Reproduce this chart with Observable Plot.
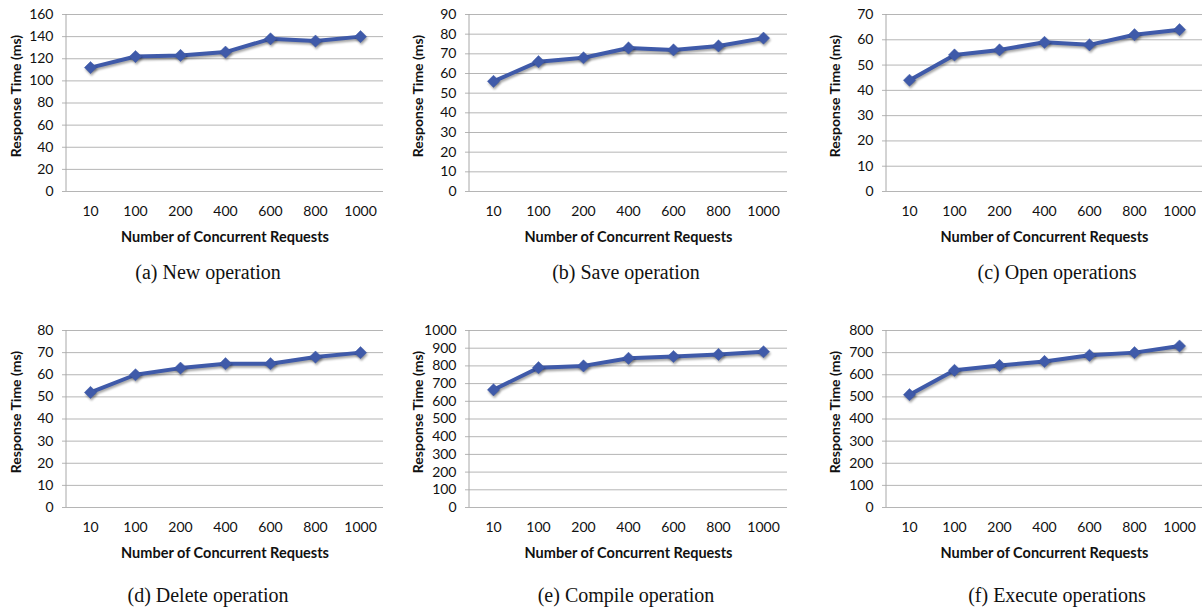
<!DOCTYPE html>
<html><head><meta charset="utf-8">
<script src="https://cdn.jsdelivr.net/npm/d3@7"></script>
<script src="https://cdn.jsdelivr.net/npm/@observablehq/plot@0.6"></script>
<style>
body{margin:0;background:#fff;}
#fig{position:relative;width:1203px;height:607px;overflow:hidden;background:#fff;}
.panel{position:absolute;}
.cap{position:absolute;font-family:"Liberation Serif","Times New Roman",serif;font-size:20px;color:#111;transform:translate(-50%,-50%);white-space:nowrap;}
.panel svg g[aria-label="line"], .panel svg g[aria-label="dot"]{filter:drop-shadow(1px 2px 1.2px rgba(0,0,0,0.35));}
</style></head>
<body><div id="fig"></div>
<script>
// ---- data ----
const requests = ["10","100","200","400","600","800","1000"];
const newOp     = [112,122,123,126,138,136,140];
const saveOp    = [56,66,68,73,72,74,78];
const openOp    = [44,54,56,59,58,62,64];
const deleteOp  = [52,60,63,65,65,68,70];
const compileOp = [665,790,800,843,853,865,880];
const executeOp = [510,620,642,660,688,700,730];
const captions = ["(a) New operation","(b) Save operation","(c) Open operations","(d) Delete operation","(e) Compile operation","(f) Execute operations"];
const yMax  = [160,90,70,80,1000,800];
const yStep = [20,10,10,10,100,100];
const xTitle = "Number of Concurrent Requests";
const yTitle = "Response Time (ms)";
const series = [newOp, saveOp, openOp, deleteOp, compileOp, executeOp];

// ---- layout ----
const cols = [
  {left:0,   width:400, ml:66, mr:17, yt:16, cx:208},
  {left:400, width:400, ml:69, mr:13, yt:18, cx:226},
  {left:800, width:403, ml:86, mr:1,  yt:35, cx:257}
];
const rows = [{top:0, capY:272}, {top:316, capY:595}];
const blue = "#3f5aa9";
const fig = document.getElementById("fig");

series.forEach((vals, i) => {
  const c = cols[i % 3], r = rows[Math.floor(i / 3)];
  const data = requests.map((k, j) => ({r: k, v: vals[j]}));
  const ticks = d3.range(0, yMax[i] + yStep[i] / 2, yStep[i]);
  const axisLine = (index, scales, values, dim) => {
    const g = d3.create("svg:line")
      .attr("x1", dim.marginLeft).attr("x2", dim.marginLeft)
      .attr("y1", dim.marginTop).attr("y2", dim.height - dim.marginBottom)
      .attr("stroke", "#a8a8a8");
    return g.node();
  };
  const chart = Plot.plot({
    width: c.width, height: 250,
    marginTop: 14, marginBottom: 59, marginLeft: c.ml, marginRight: c.mr,
    style: {fontFamily: "Lato, 'Open Sans', sans-serif", fontSize: "14px", color: "#111", background: "transparent", overflow: "visible"},
    x: {type: "point", domain: requests, padding: 0.5, label: null},
    y: {domain: [0, yMax[i]], label: null},
    marks: [
      Plot.gridY(ticks, {stroke: "#b5b5b5", strokeOpacity: 1}),
      Plot.axisY(ticks, {tickSize: 4, tickPadding: 9, stroke: "#b5b5b5", fill: "#111", label: null, fontSize: 14, tickFormat: d => String(d)}),
      Plot.axisX({tickSize: 0, tickPadding: 15, fill: "#111", label: null, fontSize: 14}),
      axisLine,
      Plot.line(data, {x: "r", y: "v", stroke: blue, strokeWidth: 4}),
      Plot.dot(data, {x: "r", y: "v", symbol: "diamond2", r: 5.5, fill: blue, stroke: blue, strokeWidth: 0.5}),
      Plot.text([xTitle], {frameAnchor: "bottom", dy: 50, fontWeight: "bold", fontSize: 14.5, fill: "#111"}),
      Plot.text([yTitle], {frameAnchor: "left", textAnchor: "middle", rotate: -90, dx: c.yt - c.ml, dy: -7, fontWeight: "bold", fontSize: 14, fill: "#111"})
    ]
  });
  const wrap = document.createElement("div");
  wrap.className = "panel";
  wrap.style.left = c.left + "px";
  wrap.style.top = r.top + "px";
  wrap.appendChild(chart);
  fig.appendChild(wrap);
  const cap = document.createElement("div");
  cap.className = "cap";
  cap.textContent = captions[i];
  cap.style.left = (c.left + c.cx) + "px";
  cap.style.top = r.capY + "px";
  fig.appendChild(cap);
});
</script>
</body></html>
